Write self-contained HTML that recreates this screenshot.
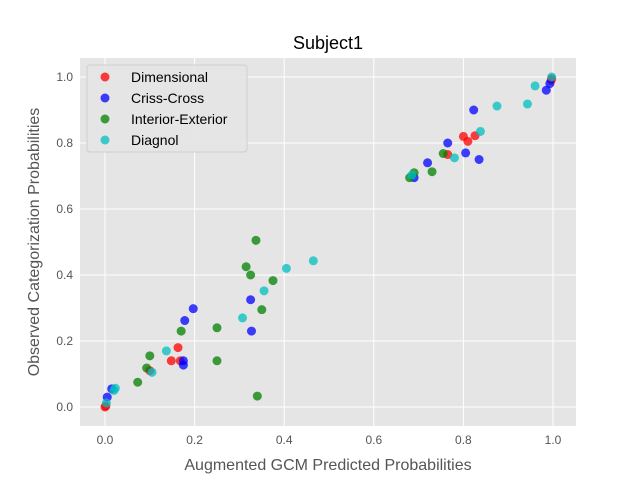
<!DOCTYPE html>
<html><head><meta charset="utf-8"><style>
body{margin:0;background:#fff;font-family:"Liberation Sans","DejaVu Sans",sans-serif}
</style></head><body>
<svg id="chart" width="640" height="480" xmlns="http://www.w3.org/2000/svg">
<rect x="80" y="58" width="496" height="368" fill="#E5E5E5"/>
<g id="grid"></g><g id="ticks"></g><g id="pts"></g>
<text x="328" y="49" text-anchor="middle" font-size="18" fill="#000">Subject1</text>
<text x="328" y="470" text-anchor="middle" font-size="16" fill="#555">Augmented GCM Predicted Probabilities</text>
<text transform="translate(39,242) rotate(-90)" text-anchor="middle" font-size="16" fill="#555">Observed Categorization Probabilities</text>
<g id="legend">
<rect x="87" y="65" width="160" height="87" rx="3" fill="#E5E5E5" stroke="#ccc" opacity="0.9"/>
</g>
</svg>
<script>
const xTicks=[0,0.2,0.4,0.6,0.8,1.0];
const yTicks=[0,0.2,0.4,0.6,0.8,1.0];
const seriesNames=["Dimensional","Criss-Cross","Interior-Exterior","Diagnol"];
const seriesColors=["#FF0000","#0000FF","#008000","#00BFBF"];
const dimX=[0,0.002,0.148,0.163,0.168,0.1,0.765,0.8,0.81,0.826,0.996,0.997];
const dimY=[0,0.003,0.14,0.18,0.14,0.11,0.765,0.82,0.805,0.822,0.99,0.995];
const ccX=[0.005,0.015,0.175,0.175,0.178,0.197,0.325,0.327,0.69,0.72,0.765,0.805,0.823,0.835,0.985,0.993];
const ccY=[0.03,0.055,0.14,0.127,0.262,0.298,0.325,0.23,0.695,0.74,0.8,0.77,0.9,0.75,0.96,0.98];
const ieX=[0.073,0.093,0.1,0.17,0.25,0.25,0.315,0.325,0.337,0.34,0.35,0.375,0.68,0.69,0.73,0.755];
const ieY=[0.075,0.118,0.155,0.23,0.24,0.14,0.425,0.4,0.505,0.033,0.295,0.383,0.695,0.71,0.713,0.768];
const dgX=[0.003,0.02,0.023,0.105,0.137,0.307,0.355,0.405,0.465,0.685,0.78,0.838,0.875,0.943,0.96,0.997];
const dgY=[0.012,0.05,0.057,0.105,0.17,0.27,0.352,0.42,0.443,0.703,0.755,0.835,0.912,0.918,0.973,1.0];
const NS="http://www.w3.org/2000/svg";
const xs=v=>105+v*448, ys=v=>407-v*330;
function mk(t,a,p){const e=document.createElementNS(NS,t);for(const k in a)e.setAttribute(k,a[k]);p.appendChild(e);return e;}
const grid=document.getElementById('grid'),ticks=document.getElementById('ticks'),pts=document.getElementById('pts'),leg=document.getElementById('legend');
xTicks.forEach(v=>{const g=mk('line',{x1:xs(v),x2:xs(v),y1:58,y2:426,stroke:'#fff','stroke-width':1},grid);

const t=mk('text',{x:xs(v),y:444,'text-anchor':'middle','font-size':12,fill:'#555'},ticks);t.textContent=v.toFixed(1);
});
yTicks.forEach(v=>{const g=mk('line',{x1:80,x2:576,y1:ys(v),y2:ys(v),stroke:'#fff','stroke-width':1},grid);

const t=mk('text',{x:73,y:ys(v)+4,'text-anchor':'end','font-size':12,fill:'#555'},ticks);t.textContent=v.toFixed(1);
});
[[dimX,dimY],[ccX,ccY],[ieX,ieY],[dgX,dgY]].forEach((s,i)=>{
s[0].forEach((x,j)=>{const c=mk('circle',{cx:xs(x),cy:ys(s[1][j]),r:4.5,fill:seriesColors[i],'fill-opacity':0.75},pts);

});
const c=mk('circle',{cx:105,cy:77+i*21,r:4.5,fill:seriesColors[i],'fill-opacity':0.75},leg);


const t=mk('text',{x:131,y:82+i*21,'font-size':14,fill:'#000'},leg);t.textContent=seriesNames[i];

});
</script>
</body></html>
